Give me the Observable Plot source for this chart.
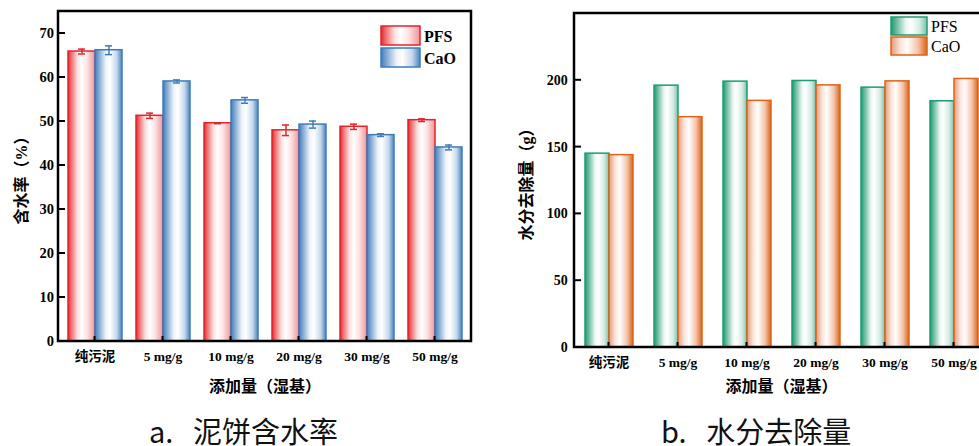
<!DOCTYPE html>
<html><head><meta charset="utf-8">
<script src="https://cdn.jsdelivr.net/npm/d3@7"></script>
<script src="https://cdn.jsdelivr.net/npm/@observablehq/plot@0.6"></script>
<style>
html,body{margin:0;padding:0;background:#fff;}
body{width:979px;height:446px;overflow:hidden;position:relative;}
#a,#b{position:absolute;top:0;}
#a{left:0;width:490px;} #b{left:490px;width:518px;}
svg{max-width:none !important;}
.cap{position:absolute;top:416px;font-family:"Noto Sans CJK SC",sans-serif;font-size:29px;line-height:29px;white-space:pre;color:#111;}
</style>
</head><body>
<div id="a"></div><div id="b"></div>
<div class="cap" style="left:149px">a.   泥饼含水率</div>
<div class="cap" style="left:661px">b.   水分去除量</div>
<script>
const categories = ["纯污泥", "5 mg/g", "10 mg/g", "20 mg/g", "30 mg/g", "50 mg/g"];
const seriesNames = ["PFS", "CaO"];
const moisturePFS = [65.9, 51.3, 49.6, 48.0, 48.8, 50.3];
const moisturePFSErr = [0.55, 0.6, 0.1, 1.2, 0.6, 0.3];
const moistureCaO = [66.2, 59.1, 54.8, 49.3, 46.9, 44.1];
const moistureCaOErr = [1.0, 0.35, 0.65, 0.8, 0.3, 0.55];
const removalPFS = [145.1, 196.0, 199.0, 199.5, 194.5, 184.3];
const removalCaO = [144.0, 172.4, 184.6, 196.2, 199.2, 201.0];
const yTicksA = [0, 10, 20, 30, 40, 50, 60, 70];
const yTicksB = [0, 50, 100, 150, 200];
const yLabelA = "含水率（%）";
const yLabelB = "水分去除量（g）";
const xLabel = "添加量（湿基）";

const rowsA = [];
categories.forEach((c, i) => {
  rowsA.push({cat: c, series: "PFS", value: moisturePFS[i], err: moisturePFSErr[i]});
  rowsA.push({cat: c, series: "CaO", value: moistureCaO[i], err: moistureCaOErr[i]});
});
const rowsB = [];
categories.forEach((c, i) => {
  rowsB.push({cat: c, series: "PFS", value: removalPFS[i]});
  rowsB.push({cat: c, series: "CaO", value: removalCaO[i]});
});

const font = "'Liberation Serif','Noto Sans CJK SC',serif";
const stylesA = {PFS: {fill: "url(#gRed)", stroke: "#e3242b"}, CaO: {fill: "url(#gBlue)", stroke: "#3d7cbc"}};
const stylesB = {PFS: {fill: "url(#gGreen)", stroke: "#1e9b74"}, CaO: {fill: "url(#gOrange)", stroke: "#dd6418"}};

function barsFor(rows, styles, withErr) {
  const marks = [];
  for (const s of seriesNames) {
    const d = rows.filter(r => r.series === s);
    marks.push(Plot.barY(d, {fx: "cat", x: "series", y: "value", fill: styles[s].fill, stroke: styles[s].stroke, strokeWidth: 1.5}));
    if (withErr) {
      marks.push(Plot.ruleX(d, {fx: "cat", x: "series", y1: r => r.value - r.err, y2: r => r.value + r.err, stroke: styles[s].stroke, strokeWidth: 1.5}));
      marks.push(Plot.tickY(d, {fx: "cat", x: "series", y: r => r.value - r.err, stroke: styles[s].stroke, strokeWidth: 1.5, insetLeft: 10, insetRight: 10}));
      marks.push(Plot.tickY(d, {fx: "cat", x: "series", y: r => r.value + r.err, stroke: styles[s].stroke, strokeWidth: 1.5, insetLeft: 10, insetRight: 10}));
    }
  }
  return marks;
}

const plotA = Plot.plot({
  width: 490, height: 400,
  marginLeft: 58, marginRight: 19, marginTop: 11, marginBottom: 59,
  style: {fontFamily: font, fontSize: "13.5px", fontWeight: "bold", color: "#000", background: "transparent", overflow: "visible"},
  fx: {domain: categories, paddingInner: 0.186, paddingOuter: 0.093, axis: "bottom", label: xLabel, labelAnchor: "center", labelOffset: 50, labelArrow: false, tickSize: 0, tickPadding: 10},
  x: {domain: seriesNames, axis: null, padding: 0},
  y: {domain: [0, 75], ticks: yTicksA, tickSize: 0, tickPadding: 13.4, label: yLabelA, labelAnchor: "center", labelOffset: 52, labelArrow: false},
  marks: barsFor(rowsA, stylesA, true)
});

const plotB = Plot.plot({
  width: 518, height: 400,
  marginLeft: 84, marginRight: 20, marginTop: 13, marginBottom: 53,
  style: {fontFamily: font, fontSize: "13.5px", fontWeight: "bold", color: "#000", background: "transparent", overflow: "visible"},
  fx: {domain: categories, paddingInner: 0.284, paddingOuter: 0.142, axis: "bottom", label: xLabel, labelAnchor: "center", labelOffset: 44, labelArrow: false, tickSize: 0, tickPadding: 10},
  x: {domain: seriesNames, axis: null, padding: 0},
  y: {domain: [0, 250], ticks: yTicksB, tickSize: 0, tickPadding: 16.8, label: yLabelB, labelAnchor: "center", labelOffset: 64, labelArrow: false},
  marks: barsFor(rowsB, stylesB, false)
});

const gradients = {
  gRed: [[0, "#e3242b"], [0.1, "#ec6467"], [0.35, "#fbe0e0"], [0.5, "#ffffff"], [0.7, "#fde4e4"], [1, "#f09496"]],
  gBlue: [[0, "#3d7cbc"], [0.1, "#6d9ccc"], [0.4, "#eef3f9"], [0.55, "#ffffff"], [0.8, "#c6d8eb"], [1, "#4a84c0"]],
  gGreen: [[0, "#1e9b74"], [0.12, "#58b394"], [0.42, "#eef7f3"], [0.55, "#ffffff"], [0.8, "#d3ebe2"], [1, "#7cc0a8"]],
  gOrange: [[0, "#e49a78"], [0.25, "#f9e2d7"], [0.45, "#ffffff"], [0.75, "#f3c3a9"], [1, "#dd6418"]]
};

function decorate(plot, gradIds, frame, legend, yTicks, yTickFont) {
  const s = d3.select(plot);
  const defs = s.insert("defs", ":first-child");
  for (const id of gradIds) {
    const lg = defs.append("linearGradient").attr("id", id).attr("x1", 0).attr("x2", 1).attr("y1", 0).attr("y2", 0);
    for (const [o, c] of gradients[id]) lg.append("stop").attr("offset", o).attr("stop-color", c);
  }
  s.selectAll("g[aria-label='y-axis tick label'] text").style("font-size", yTickFont);
  s.selectAll("text").each(function() {
    const t = this.textContent;
    if (t.includes("（")) {
      d3.select(this).style("font-size", "16px").style("font-weight", "bold");
      const tn = this.querySelector("tspan") || this;
      if (/[↑→←↓]/.test(tn.textContent)) tn.textContent = tn.textContent.replace(/\s*[↑→←↓]\s*/g, "");
    }
  });
  const y = plot.scale("y"), fx = plot.scale("fx");
  const tg = s.append("g").attr("stroke", "#000").attr("stroke-width", 2);
  for (const t of yTicks) {
    const py = y.apply(t);
    tg.append("line").attr("x1", frame.x).attr("x2", frame.x + 7).attr("y1", py).attr("y2", py);
  }
  for (const c of categories) {
    const px = fx.apply(c) + fx.bandwidth / 2;
    tg.append("line").attr("x1", px).attr("x2", px).attr("y1", frame.y + frame.h).attr("y2", frame.y + frame.h - 5);
  }
  s.append("rect").attr("x", frame.x).attr("y", frame.y).attr("width", frame.w).attr("height", frame.h)
    .attr("fill", "none").attr("stroke", "#000").attr("stroke-width", 2.5);
  const g = s.append("g").attr("font-family", font).attr("font-size", legend.fontSize).attr("font-weight", legend.weight).attr("text-anchor", "start");
  legend.items.forEach((it, i) => {
    g.append("rect").attr("x", legend.x).attr("y", legend.y + i * legend.dy).attr("width", legend.w).attr("height", legend.h)
      .attr("fill", it.fill).attr("stroke", it.stroke).attr("stroke-width", 1.5);
    g.append("text").attr("x", legend.x + legend.w + legend.gap).attr("y", legend.y + i * legend.dy + legend.h - 3)
      .attr("text-anchor", "start").text(it.label).attr("fill", "#000");
  });
  return plot;
}

decorate(plotA, ["gRed", "gBlue"], {x: 58, y: 11, w: 413, h: 330},
  {x: 381, y: 26, dy: 22, w: 39, h: 19, gap: 4, fontSize: "16px", weight: "bold",
   items: seriesNames.map(s => ({label: s, ...stylesA[s]}))}, yTicksA, "14.5px");
decorate(plotB, ["gGreen", "gOrange"], {x: 84, y: 13, w: 414, h: 334},
  {x: 401, y: 17, dy: 20, w: 36, h: 18, gap: 4, fontSize: "16px", weight: "normal",
   items: seriesNames.map(s => ({label: s, ...stylesB[s]}))}, yTicksB, "14px");

document.getElementById("a").append(plotA);
document.getElementById("b").append(plotB);
</script>
</body></html>
